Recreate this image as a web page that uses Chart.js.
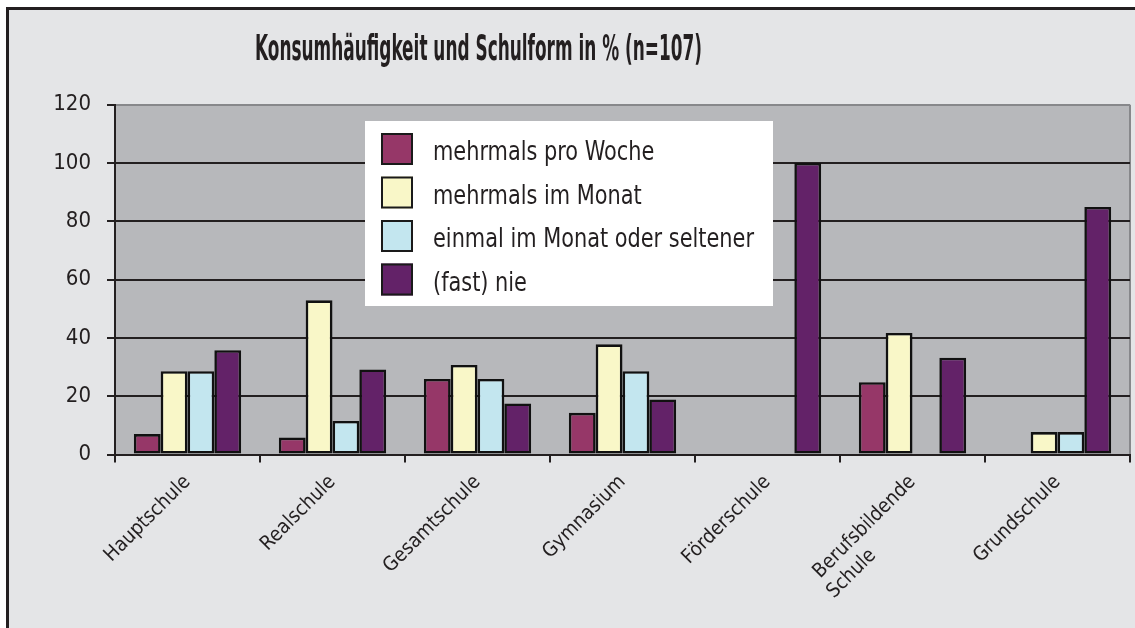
<!DOCTYPE html>
<html>
<head>
<meta charset="utf-8">
<script src="https://cdn.jsdelivr.net/npm/chart.js@4.4.0/dist/chart.umd.min.js"></script>
<style>
  html, body { margin: 0; padding: 0; background: #ffffff; }
  #wrap { position: relative; width: 1135px; height: 628px; }
</style>
</head>
<body>
<div id="wrap"><canvas id="chart" width="1135" height="628"></canvas></div>
<script>
// data (percent)
const schulformen = ['Hauptschule', 'Realschule', 'Gesamtschule', 'Gymnasium', 'Förderschule', ['Berufsbildende', 'Schule              '], 'Grundschule'];
const mehrmalsProWoche = [7, 5.8, 25.9, 14.3, 0, 24.8, 0];
const mehrmalsImMonat = [28.6, 52.9, 30.7, 37.8, 0, 41.7, 7.7];
const einmalImMonat = [28.6, 11.5, 25.9, 28.6, 0, 0, 7.7];
const fastNie = [35.8, 29.2, 17.5, 18.9, 100, 33.2, 84.9];
const yTicks = [0, 20, 40, 60, 80, 100, 120];
const titleText = 'Konsumhäufigkeit und Schulform in % (n=107)';

const FONT = "'Liberation Sans Narrow', 'DejaVu Sans Condensed', 'Liberation Sans', sans-serif";
const INK = '#231f20';

// frame, grey panel and plot background
const backdrop = {
  id: 'backdrop',
  beforeDraw(chart) {
    const ctx = chart.ctx, a = chart.chartArea;
    ctx.save();
    ctx.fillStyle = '#ffffff';
    ctx.fillRect(0, 0, chart.width, chart.height);
    ctx.fillStyle = '#e4e5e7';
    ctx.fillRect(9, 10, chart.width - 9, chart.height - 10);
    ctx.fillStyle = INK;
    ctx.fillRect(6, 7, chart.width - 6, 3);
    ctx.fillRect(6, 7, 3, chart.height - 7);
    ctx.fillStyle = '#b7b8bb';
    ctx.fillRect(a.left, a.top, a.right - a.left, a.bottom - a.top);
    ctx.strokeStyle = '#87888b';
    ctx.lineWidth = 2;
    ctx.beginPath();
    ctx.moveTo(a.right, a.top);
    ctx.lineTo(a.right, a.bottom);
    ctx.stroke();
    ctx.restore();
  }
};

// title, squeezed like the condensed original
const titlePlugin = {
  id: 'titlePlugin',
  afterDraw(chart) {
    const ctx = chart.ctx;
    ctx.save();
    ctx.font = 'bold 35px ' + FONT;
    ctx.fillStyle = INK;
    ctx.textBaseline = 'alphabetic';
    const w = ctx.measureText(titleText).width;
    ctx.translate(478.5 - 447 / 2, 60);
    ctx.scale(447 / w, 1);
    ctx.fillText(titleText, 0, 0);
    ctx.restore();
  }
};

// legend box inside the plot
const legendBox = {
  id: 'legendBox',
  afterDatasetsDraw(chart) {
    const ctx = chart.ctx;
    ctx.save();
    ctx.fillStyle = '#ffffff';
    ctx.fillRect(365, 121, 408, 185);
    ctx.font = '26px ' + FONT;
    ctx.textBaseline = 'alphabetic';
    // squeeze so the longest entry is as wide as in the original
    const sx = 321 / ctx.measureText(chart.data.datasets[2].label).width;
    chart.data.datasets.forEach((ds, i) => {
      const top = 133 + i * 43.5;
      ctx.fillStyle = ds.backgroundColor;
      ctx.fillRect(381, top, 32, 32);
      ctx.strokeStyle = '#1a1a1a';
      ctx.lineWidth = 2;
      ctx.strokeRect(382, top + 1, 30, 30);
      ctx.save();
      ctx.translate(433, top + 27);
      ctx.scale(sx, 1);
      ctx.fillStyle = INK;
      ctx.fillText(ds.label, 0, 0);
      ctx.restore();
    });
    ctx.restore();
  }
};

const barStyle = { borderColor: '#111111', borderWidth: 2.6, borderSkipped: false, barPercentage: 1, categoryPercentage: 0.74 };

new Chart(document.getElementById('chart'), {
  type: 'bar',
  data: {
    labels: schulformen,
    datasets: [
      Object.assign({ label: 'mehrmals pro Woche', data: mehrmalsProWoche, backgroundColor: '#963768' }, barStyle),
      Object.assign({ label: 'mehrmals im Monat', data: mehrmalsImMonat, backgroundColor: '#f9f7c8' }, barStyle),
      Object.assign({ label: 'einmal im Monat oder seltener', data: einmalImMonat, backgroundColor: '#c3e6ef' }, barStyle),
      Object.assign({ label: '(fast) nie', data: fastNie, backgroundColor: '#632268' }, barStyle)
    ]
  },
  options: {
    responsive: false,
    animation: false,
    layout: { padding: { top: 104.7, right: 5, left: 0, bottom: 0 } },
    plugins: {
      legend: { display: false },
      title: { display: false },
      tooltip: { enabled: false }
    },
    scales: {
      x: {
        grid: { drawOnChartArea: false, drawTicks: true, tickLength: 8, color: INK, lineWidth: 2, offset: true },
        border: { display: true, color: INK, width: 2 },
        ticks: { color: INK, font: { family: FONT, size: 20 }, minRotation: 45, maxRotation: 45, padding: 8 },
        afterFit(scale) { scale.height = 173.5; }
      },
      y: {
        min: 0,
        max: 120,
        afterBuildTicks(scale) { scale.ticks = yTicks.map(v => ({ value: v })); },
        grid: {
          color: ctx => ctx.tick && ctx.tick.value === 120 ? '#87888b' : INK,
          tickColor: INK,
          lineWidth: 2,
          tickLength: 8
        },
        border: { display: true, color: INK, width: 2 },
        ticks: { color: INK, font: { family: FONT, size: 22 }, padding: 16 },
        afterFit(scale) { scale.width = 115; }
      }
    }
  },
  plugins: [backdrop, legendBox, titlePlugin]
});
</script>
</body>
</html>
